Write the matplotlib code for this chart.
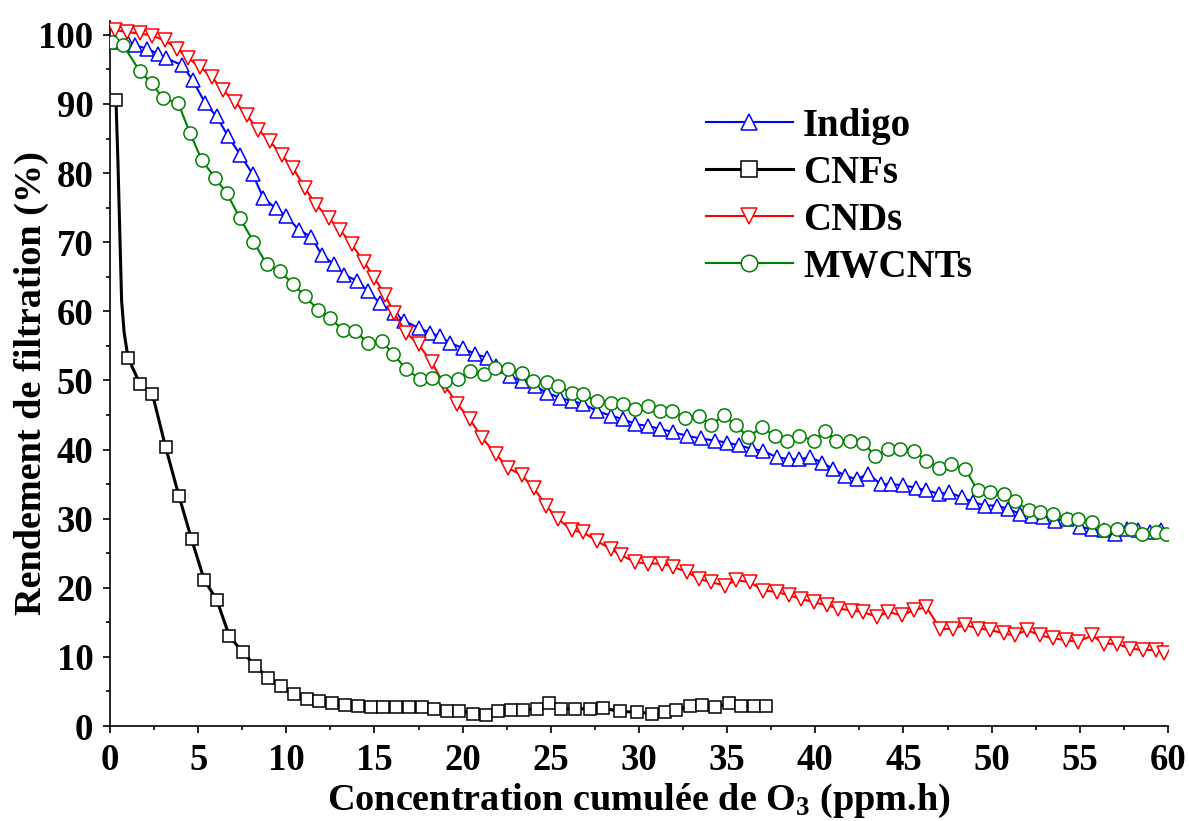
import matplotlib
matplotlib.use("Agg")
import matplotlib.pyplot as plt
from matplotlib.ticker import MultipleLocator

plt.rcParams['font.family'] = ['Liberation Serif', 'DejaVu Serif']
plt.rcParams['font.weight'] = 'bold'
plt.rcParams['mathtext.fontset'] = 'custom'
plt.rcParams['mathtext.rm'] = 'Liberation Serif:bold'
plt.rcParams['mathtext.bf'] = 'Liberation Serif:bold'
plt.rcParams['mathtext.it'] = 'Liberation Serif:bold'

# ---------------- data ----------------
indigo_x = [0.3, 1.0, 1.4, 2.1, 2.7, 3.2, 4.1, 4.7, 5.4, 6.05, 6.7, 7.4, 8.1, 8.7, 9.4, 10.0,
            10.7, 11.4, 12.0, 12.7, 13.3, 14.0, 14.65, 15.3, 16.1, 16.7, 17.5, 18.15, 18.7, 19.3,
            20.0, 20.7, 21.4, 21.9, 22.7, 23.35, 24.1, 24.8, 25.5, 26.2, 26.85, 27.6, 28.4, 29.1,
            29.8, 30.5, 31.2, 31.95, 32.7, 33.5, 34.3, 35.0, 35.7, 36.4, 37.05, 37.8, 38.5, 39.1,
            39.7, 40.4, 41.0, 41.7, 42.35, 43.0, 43.7, 44.3, 45.0, 45.7, 46.3, 47.0, 47.6, 48.3,
            48.97, 49.6, 50.3, 50.95, 51.6, 52.3, 52.9, 53.6, 54.3, 55.0, 55.7, 56.35, 57.0, 57.7,
            58.3, 59.0, 59.6]
indigo_y = [99.0, 98.8, 98.5, 98.0, 97.3, 96.6, 95.6, 93.4, 90.1, 88.2, 85.3, 82.6, 79.8, 76.4,
            74.9, 73.8, 71.8, 70.8, 68.2, 66.8, 65.3, 64.4, 62.9, 61.2, 59.8, 58.6, 57.6, 56.9,
            56.4, 55.4, 54.7, 53.8, 53.3, 52.1, 50.6, 49.9, 49.2, 48.2, 47.5, 47.0, 46.6, 45.6,
            44.9, 44.4, 43.7, 43.4, 43.0, 42.5, 42.0, 41.6, 41.3, 41.0, 40.6, 40.1, 39.8, 38.9,
            38.6, 38.6, 38.9, 38.1, 37.2, 36.2, 35.7, 36.5, 35.0, 35.0, 34.8, 34.5, 34.1, 33.6,
            33.8, 33.1, 32.4, 31.9, 31.9, 31.4, 30.7, 30.4, 30.2, 29.7, 30.0, 28.8, 28.5, 28.3,
            27.8, 28.5, 28.3, 28.0, 28.3]

cnf_x = [0.34, 0.45, 0.55, 0.66, 0.8, 1.02, 1.70, 2.40, 3.16, 3.91, 4.63, 5.35, 6.05, 6.77, 7.52,
         8.24, 8.98, 9.70, 10.44, 11.15, 11.87, 12.6, 13.33, 14.05, 14.78, 15.5, 16.2, 16.95,
         17.68, 18.4, 19.1, 19.8, 20.6, 21.33, 22.0, 22.75, 23.45, 24.2, 24.9, 25.6, 26.4, 27.2,
         27.97, 28.9, 29.9, 30.75, 31.45, 32.1, 32.9, 33.6, 34.3, 35.1, 35.8, 36.5, 37.2]
cnf_y = [90.6, 81.7, 72.0, 61.5, 57.0, 53.3, 49.5, 48.1, 40.3, 33.3, 27.0, 21.1, 18.3, 13.0, 10.7,
         8.7, 6.9, 5.8, 4.7, 3.9, 3.6, 3.3, 3.1, 2.9, 2.8, 2.8, 2.7, 2.8, 2.7, 2.4, 2.2, 2.2, 1.8,
         1.6, 2.2, 2.3, 2.3, 2.5, 3.3, 2.5, 2.5, 2.5, 2.6, 2.1, 2.0, 1.8, 2.0, 2.3, 2.9, 3.0, 2.7,
         3.3, 2.9, 2.9, 2.9]
cnf_marks = [0] + list(range(5, len(cnf_x)))

cnd_x = [0.28, 0.95, 1.7, 2.37, 3.1, 3.8, 4.44, 5.1, 5.77, 6.4, 7.1, 7.75, 8.4, 9.07, 9.74, 10.4,
         11.06, 11.7, 12.4, 13.05, 13.7, 14.4, 15.0, 15.6, 16.1, 16.8, 17.5, 18.25, 19.0, 19.7,
         20.4, 21.1, 21.9, 22.6, 23.35, 24.05, 24.75, 25.4, 26.2, 26.85, 27.6, 28.4, 29.0, 29.8,
         30.5, 31.3, 31.95, 32.7, 33.4, 34.1, 34.9, 35.5, 36.3, 37.05, 37.8, 38.5, 39.2, 39.9,
         40.65, 41.3, 42.1, 42.7, 43.5, 44.15, 44.9, 45.6, 46.3, 47.1, 47.8, 48.5, 49.25, 49.9,
         50.7, 51.3, 52.0, 52.75, 53.5, 54.2, 54.9, 55.7, 56.35, 57.1, 57.85, 58.6, 59.3, 59.8]
cnd_y = [100.7, 100.4, 100.2, 99.9, 99.2, 98.0, 96.6, 95.4, 93.9, 92.0, 90.3, 88.4, 86.3, 84.6,
         82.6, 80.7, 77.8, 75.4, 73.5, 71.8, 69.7, 67.2, 64.8, 62.4, 59.8, 56.9, 55.2, 52.6, 49.2,
         46.6, 44.4, 41.7, 39.3, 37.3, 36.3, 34.4, 31.8, 30.0, 28.3, 28.0, 26.8, 25.6, 24.7, 23.7,
         23.5, 23.5, 23.0, 22.3, 21.3, 20.8, 20.3, 21.1, 20.8, 19.6, 19.4, 18.9, 18.4, 17.9, 17.5,
         17.0, 16.7, 16.5, 15.8, 16.5, 16.0, 16.8, 17.2, 14.0, 14.1, 14.6, 14.1, 13.9, 13.4, 13.1,
         13.9, 13.1, 12.7, 12.4, 12.2, 13.1, 11.9, 11.9, 11.2, 11.0, 11.0, 10.5]

mw_x = [0.1, 0.75, 1.7, 2.37, 3.0, 3.87, 4.54, 5.2, 5.96, 6.62, 7.37, 8.13, 8.89, 9.64, 10.4,
        11.06, 11.8, 12.5, 13.2, 13.9, 14.65, 15.4, 16.07, 16.8, 17.6, 18.25, 19.0, 19.75, 20.4,
        21.2, 21.84, 22.6, 23.35, 24.0, 24.8, 25.4, 26.2, 26.85, 27.6, 28.4, 29.1, 29.8, 30.5,
        31.2, 31.9, 32.6, 33.4, 34.1, 34.8, 35.5, 36.2, 36.95, 37.7, 38.4, 39.1, 39.9, 40.55,
        41.2, 41.97, 42.7, 43.4, 44.15, 44.8, 45.6, 46.3, 47.0, 47.7, 48.5, 49.2, 49.9, 50.7,
        51.3, 52.1, 52.75, 53.5, 54.3, 54.9, 55.7, 56.4, 57.1, 57.9, 58.5, 59.3, 59.9]
mw_y = [99.0, 98.5, 94.7, 93.0, 90.8, 90.1, 85.8, 81.9, 79.3, 77.1, 73.5, 70.1, 66.8, 65.8, 63.9,
        62.2, 60.2, 59.0, 57.3, 57.1, 55.4, 55.7, 53.8, 51.6, 50.2, 50.4, 49.9, 50.2, 51.4, 50.9,
        51.8, 51.6, 51.1, 49.9, 49.7, 49.2, 48.2, 48.0, 47.0, 46.8, 46.6, 45.8, 46.3, 45.6, 45.6,
        44.6, 44.9, 43.5, 45.0, 43.5, 41.8, 43.2, 42.0, 41.3, 42.0, 41.3, 42.7, 41.3, 41.3, 41.0,
        39.1, 40.1, 40.1, 39.8, 38.4, 37.4, 37.9, 37.2, 34.1, 33.8, 33.6, 32.6, 31.2, 30.9, 30.7,
        30.0, 30.0, 29.5, 28.3, 28.5, 28.5, 27.8, 28.0, 27.8]

labels = ['Indigo', 'CNFs', 'CNDs', 'MWCNTs']
colors = ['#0000ff', '#000000', '#ff0000', '#008000']
x_ticks = [0, 5, 10, 15, 20, 25, 30, 35, 40, 45, 50, 55, 60]
y_ticks = [0, 10, 20, 30, 40, 50, 60, 70, 80, 90, 100]

# ---------------- figure ----------------
fig = plt.figure(figsize=(11.89, 8.21), dpi=100)
ax = fig.add_axes([0.0925, 0.1157, 0.8898, 0.8587])

ms = 9.5
mew = 1.1
ax.plot(indigo_x, indigo_y, color=colors[0], lw=1.5, marker='^', ms=ms, mfc='white',
        mec=colors[0], mew=mew, label=labels[0], zorder=3)
ax.plot(cnf_x, cnf_y, color=colors[1], lw=2.2, marker='s', ms=ms - 0.5, mfc='white',
        mec=colors[1], mew=mew, markevery=cnf_marks, label=labels[1], zorder=3)
ax.plot(cnd_x, cnd_y, color=colors[2], lw=1.5, marker='v', ms=ms, mfc='white',
        mec=colors[2], mew=mew, label=labels[2], zorder=3)
ax.plot(mw_x, mw_y, color=colors[3], lw=1.5, marker='o', ms=ms, mfc='white',
        mec=colors[3], mew=mew, label=labels[3], zorder=3)

ax.set_xlim(0, 60)
ax.set_ylim(0, 102)
ax.set_xticks(x_ticks)
ax.set_yticks(y_ticks)
ax.xaxis.set_minor_locator(MultipleLocator(2.5))
ax.yaxis.set_minor_locator(MultipleLocator(5))
ax.tick_params(which='major', direction='out', length=5, width=1.2, labelsize=26.5, pad=7)
ax.tick_params(which='minor', direction='out', length=3, width=1.2)
for lab in ax.get_xticklabels() + ax.get_yticklabels():
    lab.set_fontweight('bold')
for s in ['top', 'right']:
    ax.spines[s].set_visible(False)
for s in ['left', 'bottom']:
    ax.spines[s].set_linewidth(1.2)

ax.set_xlabel(r'Concentration cumulée de O$_3$ (ppm.h)', fontsize=27.5, fontweight='bold')
ax.set_ylabel('Rendement de filtration (%)', fontsize=27.5, fontweight='bold')
ax.xaxis.set_label_coords(0.5, -0.079)
ax.yaxis.set_label_coords(-0.058, 0.4865)

leg = ax.legend(loc='upper left', bbox_to_anchor=(0.5633, 0.877), frameon=False, fontsize=28,
                numpoints=1, handlelength=2.24, handletextpad=0.26, labelspacing=0.26,
                markerscale=1.25, borderpad=0, borderaxespad=0)
for t in leg.get_texts():
    t.set_fontweight('bold')

fig.savefig('out.png', dpi=100)
